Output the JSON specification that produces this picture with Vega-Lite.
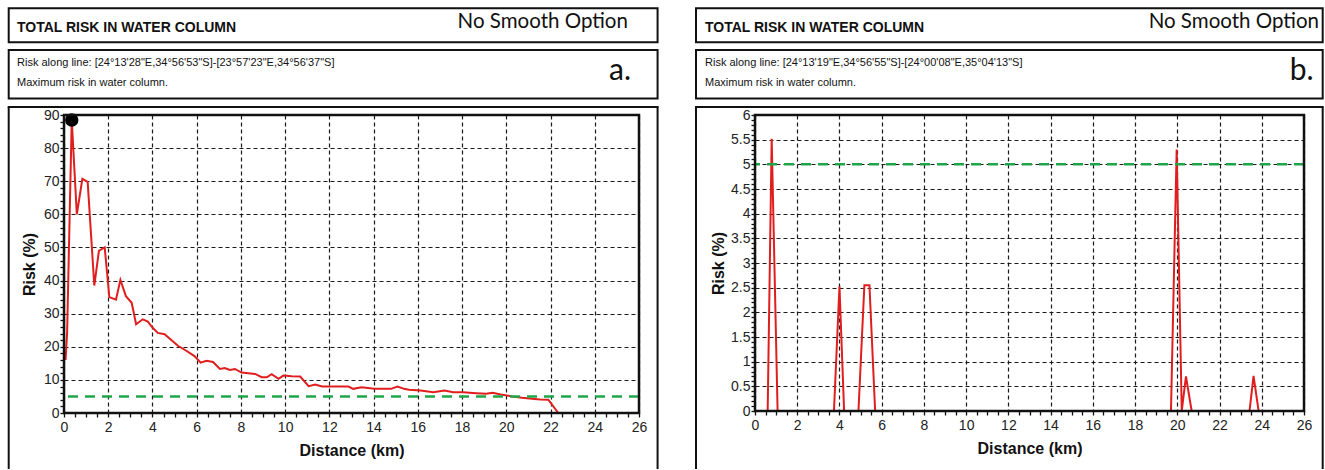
{
  "$schema": "https://vega.github.io/schema/vega-lite/v6.json",
  "background": "white",
  "padding": {"left": 7, "top": 7, "right": 0, "bottom": 0},
  "spacing": 35,
  "config": {
    "view": {"stroke": null},
    "font": "Liberation Sans",
    "axis": {
      "labelFont": "Liberation Sans",
      "labelFontSize": 14,
      "labelColor": "#222222",
      "titleFont": "Liberation Sans",
      "titleFontSize": 16,
      "titleFontWeight": "bold",
      "titleColor": "#111111",
      "domain": false,
      "tickColor": "#111111",
      "tickSize": 4,
      "tickWidth": 1.3,
      "grid": true,
      "gridColor": "#1a1a1a",
      "gridDash": [4, 3],
      "gridWidth": 1.2,
      "labelFlush": false,
      "labelOverlap": false,
      "labelBound": false
    }
  },
  "datasets": {
    "riskA": [
      {"d": 0.07, "risk": 16}, {"d": 0.14, "risk": 24}, {"d": 0.35, "risk": 88.5},
      {"d": 0.58, "risk": 60}, {"d": 0.83, "risk": 70.7}, {"d": 1.07, "risk": 69.8},
      {"d": 1.37, "risk": 38.5}, {"d": 1.58, "risk": 49}, {"d": 1.84, "risk": 50},
      {"d": 2.05, "risk": 35}, {"d": 2.35, "risk": 34.2}, {"d": 2.55, "risk": 40.2},
      {"d": 2.8, "risk": 35.3}, {"d": 3.06, "risk": 33.3}, {"d": 3.26, "risk": 26.8},
      {"d": 3.56, "risk": 28.3}, {"d": 3.79, "risk": 27.6}, {"d": 4.0, "risk": 25.8},
      {"d": 4.24, "risk": 24.2}, {"d": 4.55, "risk": 23.8}, {"d": 5.15, "risk": 20.3},
      {"d": 5.53, "risk": 18.8}, {"d": 5.9, "risk": 17.2}, {"d": 6.18, "risk": 15.2},
      {"d": 6.44, "risk": 15.8}, {"d": 6.74, "risk": 15.4}, {"d": 7.05, "risk": 13.3},
      {"d": 7.27, "risk": 13.6}, {"d": 7.5, "risk": 13}, {"d": 7.73, "risk": 13.3},
      {"d": 8.03, "risk": 12.2}, {"d": 8.64, "risk": 11.8}, {"d": 8.94, "risk": 10.8},
      {"d": 9.17, "risk": 10.8}, {"d": 9.39, "risk": 11.7}, {"d": 9.7, "risk": 10.3},
      {"d": 9.92, "risk": 11.3}, {"d": 10.3, "risk": 11.1}, {"d": 10.68, "risk": 11},
      {"d": 11.06, "risk": 8.1}, {"d": 11.36, "risk": 8.6}, {"d": 11.67, "risk": 8},
      {"d": 12.2, "risk": 8}, {"d": 12.86, "risk": 8}, {"d": 13.08, "risk": 7.3},
      {"d": 13.45, "risk": 7.8}, {"d": 14.04, "risk": 7.3}, {"d": 14.79, "risk": 7.3},
      {"d": 15.08, "risk": 8}, {"d": 15.38, "risk": 7.3}, {"d": 15.6, "risk": 7},
      {"d": 16.12, "risk": 6.8}, {"d": 16.7, "risk": 6.3}, {"d": 17.2, "risk": 6.8},
      {"d": 17.6, "risk": 6.3}, {"d": 18.04, "risk": 6.3}, {"d": 18.64, "risk": 6},
      {"d": 19.08, "risk": 5.8}, {"d": 19.38, "risk": 6.1}, {"d": 19.75, "risk": 5.6},
      {"d": 20.27, "risk": 5}, {"d": 20.71, "risk": 4.6}, {"d": 21.16, "risk": 4.3},
      {"d": 21.53, "risk": 4.1}, {"d": 21.9, "risk": 4}, {"d": 22.35, "risk": 0}
    ],
    "riskB": [
      {"d": 0, "risk": 0}, {"d": 0.6, "risk": 0}, {"d": 0.79, "risk": 5.52}, {"d": 1.07, "risk": 0},
      {"d": 3.74, "risk": 0}, {"d": 4.0, "risk": 2.53}, {"d": 4.22, "risk": 0},
      {"d": 4.9, "risk": 0}, {"d": 5.18, "risk": 2.55}, {"d": 5.42, "risk": 2.55}, {"d": 5.69, "risk": 0},
      {"d": 19.7, "risk": 0}, {"d": 19.97, "risk": 5.3}, {"d": 20.21, "risk": 0},
      {"d": 20.41, "risk": 0.7}, {"d": 20.68, "risk": 0},
      {"d": 23.42, "risk": 0}, {"d": 23.61, "risk": 0.71}, {"d": 23.85, "risk": 0},
      {"d": 25, "risk": 0}
    ]
  },
  "hconcat": [
    {
      "width": 575,
      "height": 298,
      "data": {"name": "riskA"},
      "resolve": {"axis": {"x": "independent", "y": "independent"}},
      "layer": [
        {
          "mark": {"type": "line", "color": "#e01e1e", "strokeWidth": 2},
          "encoding": {
            "x": {
              "field": "d",
              "type": "quantitative",
              "scale": {"domain": [0, 26], "nice": false, "zero": false},
              "axis": {
                "orient": "bottom",
                "grid": true,
                "title": "Distance (km)",
                "values": [0,0.5,1,1.5,2,2.5,3,3.5,4,4.5,5,5.5,6,6.5,7,7.5,8,8.5,9,9.5,10,10.5,11,11.5,12,12.5,13,13.5,14,14.5,15,15.5,16,16.5,17,17.5,18,18.5,19,19.5,20,20.5,21,21.5,22,22.5,23,23.5,24,24.5,25,25.5,26],
                "labelExpr": "datum.value % 2 === 0 ? format(datum.value, '~g') : ''",
                "gridOpacity": {"condition": {"test": "datum.value % 2 === 0", "value": 1}, "value": 0},
                "labelPadding": 3,
                "titlePadding": 8
              }
            },
            "y": {
              "field": "risk",
              "type": "quantitative",
              "scale": {"domain": [0, 90], "nice": false, "zero": false},
              "axis": {
                "orient": "left",
                "grid": true,
                "title": "Risk (%)",
                "values": [0,2,4,6,8,10,12,14,16,18,20,22,24,26,28,30,32,34,36,38,40,42,44,46,48,50,52,54,56,58,60,62,64,66,68,70,72,74,76,78,80,82,84,86,88,90],
                "labelExpr": "datum.value % 10 === 0 ? format(datum.value, '~g') : ''",
                "gridOpacity": {"condition": {"test": "datum.value % 10 === 0", "value": 1}, "value": 0},
                "labelPadding": 1,
                "titlePadding": 6
              }
            }
          }
        },
        {
          "transform": [
            {"joinaggregate": [{"op": "max", "field": "risk", "as": "peak"}]},
            {"filter": "datum.risk === datum.peak"}
          ],
          "mark": {"type": "point", "filled": true, "color": "#000000", "size": 180, "opacity": 1},
          "encoding": {
            "x": {"field": "d", "type": "quantitative", "axis": null},
            "y": {"field": "risk", "type": "quantitative", "axis": null}
          }
        },
        {
          "data": {"values": [{}]},
          "mark": {"type": "rule", "color": "#1fa64a", "strokeWidth": 2.5, "strokeDash": [10, 7]},
          "encoding": {
            "y": {"datum": 5, "type": "quantitative", "axis": null}
          }
        },
        {
          "data": {"values": [{}]},
          "mark": {"type": "rect", "filled": false, "stroke": "#111111", "strokeWidth": 2.5},
          "encoding": {
            "x": {"datum": 0, "type": "quantitative", "axis": null},
            "x2": {"datum": 26},
            "y": {"datum": 0, "type": "quantitative", "axis": null},
            "y2": {"datum": 90}
          }
        },
        {
          "data": {"values": [{}]},
          "mark": {"type": "rect", "fill": "white", "stroke": "#111111", "strokeWidth": 2},
          "encoding": {
            "x": {"datum": -2.5, "type": "quantitative", "axis": null},
            "x2": {"datum": 26.84},
            "y": {"datum": 122.22, "type": "quantitative", "axis": null},
            "y2": {"datum": 111.96}
          }
        },
        {
          "data": {"values": [{}]},
          "mark": {"type": "rect", "fill": "white", "stroke": "#111111", "strokeWidth": 2},
          "encoding": {
            "x": {"datum": -2.5, "type": "quantitative", "axis": null},
            "x2": {"datum": 26.84},
            "y": {"datum": 109.63, "type": "quantitative", "axis": null},
            "y2": {"datum": 94.98}
          }
        },
        {
          "data": {"values": [{}]},
          "mark": {"type": "rule", "color": "#111111", "strokeWidth": 2},
          "encoding": {
            "x": {"datum": -2.5, "type": "quantitative", "axis": null},
            "y": {"datum": 92.42, "type": "quantitative", "axis": null},
            "y2": {"datum": -16.91}
          }
        },
        {
          "data": {"values": [{}]},
          "mark": {"type": "rule", "color": "#111111", "strokeWidth": 2},
          "encoding": {
            "x": {"datum": 26.84, "type": "quantitative", "axis": null},
            "y": {"datum": 92.42, "type": "quantitative", "axis": null},
            "y2": {"datum": -16.91}
          }
        },
        {
          "data": {"values": [{}]},
          "mark": {"type": "rule", "color": "#111111", "strokeWidth": 2, "strokeCap": "square"},
          "encoding": {
            "x": {"datum": -2.5, "type": "quantitative", "axis": null},
            "x2": {"datum": 26.84},
            "y": {"datum": 92.42, "type": "quantitative", "axis": null}
          }
        },
        {
          "data": {"values": [{}]},
          "mark": {"type": "text", "align": "left", "baseline": "alphabetic", "font": "Liberation Sans", "fontWeight": "bold", "fontSize": 14, "color": "#111111"},
          "encoding": {
            "x": {"datum": -2.125, "type": "quantitative", "axis": null},
            "y": {"datum": 115.16, "type": "quantitative", "axis": null},
            "text": {"value": "TOTAL RISK IN WATER COLUMN"}
          }
        },
        {
          "data": {"values": [{}]},
          "mark": {"type": "text", "align": "right", "baseline": "alphabetic", "font": "Lato", "fontSize": 20.5, "color": "#111111"},
          "encoding": {
            "x": {"datum": 25.5, "type": "quantitative", "axis": null},
            "y": {"datum": 116.18, "type": "quantitative", "axis": null},
            "text": {"value": "No Smooth Option"}
          }
        },
        {
          "data": {"values": [{}]},
          "mark": {"type": "text", "align": "left", "baseline": "alphabetic", "font": "Liberation Sans", "fontSize": 11, "lineHeight": 20, "color": "#111111"},
          "encoding": {
            "x": {"datum": -2.125, "type": "quantitative", "axis": null},
            "y": {"datum": 104.8, "type": "quantitative", "axis": null},
            "text": {"value": ["Risk along line: [24°13'28\"E,34°56'53\"S]-[23°57'23\"E,34°56'37\"S]", "Maximum risk in water column."]}
          }
        },
        {
          "data": {"values": [{}]},
          "mark": {"type": "text", "align": "right", "baseline": "alphabetic", "font": "Lato", "fontSize": 30, "color": "#111111"},
          "encoding": {
            "x": {"datum": 25.64, "type": "quantitative", "axis": null},
            "y": {"datum": 100.57, "type": "quantitative", "axis": null},
            "text": {"value": "a."}
          }
        }
      ]
    },
    {
      "width": 549,
      "height": 296,
      "data": {"name": "riskB"},
      "resolve": {"axis": {"x": "independent", "y": "independent"}},
      "layer": [
        {
          "mark": {"type": "line", "color": "#e01e1e", "strokeWidth": 2},
          "encoding": {
            "x": {
              "field": "d",
              "type": "quantitative",
              "scale": {"domain": [0, 26], "nice": false, "zero": false},
              "axis": {
                "orient": "bottom",
                "grid": true,
                "title": "Distance (km)",
                "values": [0,0.5,1,1.5,2,2.5,3,3.5,4,4.5,5,5.5,6,6.5,7,7.5,8,8.5,9,9.5,10,10.5,11,11.5,12,12.5,13,13.5,14,14.5,15,15.5,16,16.5,17,17.5,18,18.5,19,19.5,20,20.5,21,21.5,22,22.5,23,23.5,24,24.5,25,25.5,26],
                "labelExpr": "datum.value % 2 === 0 ? format(datum.value, '~g') : ''",
                "gridOpacity": {"condition": {"test": "datum.value % 2 === 0", "value": 1}, "value": 0},
                "labelPadding": 3,
                "titlePadding": 8
              }
            },
            "y": {
              "field": "risk",
              "type": "quantitative",
              "scale": {"domain": [0, 6], "nice": false, "zero": false},
              "axis": {
                "orient": "left",
                "grid": true,
                "title": "Risk (%)",
                "values": [0,0.1,0.2,0.3,0.4,0.5,0.6,0.7,0.8,0.9,1,1.1,1.2,1.3,1.4,1.5,1.6,1.7,1.8,1.9,2,2.1,2.2,2.3,2.4,2.5,2.6,2.7,2.8,2.9,3,3.1,3.2,3.3,3.4,3.5,3.6,3.7,3.8,3.9,4,4.1,4.2,4.3,4.4,4.5,4.6,4.7,4.8,4.9,5,5.1,5.2,5.3,5.4,5.5,5.6,5.7,5.8,5.9,6],
                "labelExpr": "round(datum.value * 10) % 5 === 0 ? format(datum.value, '~g') : ''",
                "gridOpacity": {"condition": {"test": "round(datum.value * 10) % 5 === 0", "value": 1}, "value": 0},
                "labelPadding": 1,
                "titlePadding": 4
              }
            }
          }
        },
        {
          "data": {"values": [{}]},
          "mark": {"type": "rule", "color": "#1fa64a", "strokeWidth": 2.5, "strokeDash": [10, 7]},
          "encoding": {
            "y": {"datum": 5, "type": "quantitative", "axis": null}
          }
        },
        {
          "data": {"values": [{}]},
          "mark": {"type": "rect", "filled": false, "stroke": "#111111", "strokeWidth": 2.5},
          "encoding": {
            "x": {"datum": 0, "type": "quantitative", "axis": null},
            "x2": {"datum": 26},
            "y": {"datum": 0, "type": "quantitative", "axis": null},
            "y2": {"datum": 6}
          }
        },
        {
          "data": {"values": [{}]},
          "mark": {"type": "rect", "fill": "white", "stroke": "#111111", "strokeWidth": 2},
          "encoding": {
            "x": {"datum": -2.794, "type": "quantitative", "axis": null},
            "x2": {"datum": 26.885},
            "y": {"datum": 8.163, "type": "quantitative", "axis": null},
            "y2": {"datum": 7.474}
          }
        },
        {
          "data": {"values": [{}]},
          "mark": {"type": "rect", "fill": "white", "stroke": "#111111", "strokeWidth": 2},
          "encoding": {
            "x": {"datum": -2.794, "type": "quantitative", "axis": null},
            "x2": {"datum": 26.885},
            "y": {"datum": 7.3176, "type": "quantitative", "axis": null},
            "y2": {"datum": 6.3345}
          }
        },
        {
          "data": {"values": [{}]},
          "mark": {"type": "rule", "color": "#111111", "strokeWidth": 2},
          "encoding": {
            "x": {"datum": -2.794, "type": "quantitative", "axis": null},
            "y": {"datum": 6.1622, "type": "quantitative", "axis": null},
            "y2": {"datum": -1.1757}
          }
        },
        {
          "data": {"values": [{}]},
          "mark": {"type": "rule", "color": "#111111", "strokeWidth": 2},
          "encoding": {
            "x": {"datum": 26.885, "type": "quantitative", "axis": null},
            "y": {"datum": 6.1622, "type": "quantitative", "axis": null},
            "y2": {"datum": -1.1757}
          }
        },
        {
          "data": {"values": [{}]},
          "mark": {"type": "rule", "color": "#111111", "strokeWidth": 2, "strokeCap": "square"},
          "encoding": {
            "x": {"datum": -2.794, "type": "quantitative", "axis": null},
            "x2": {"datum": 26.885},
            "y": {"datum": 6.1622, "type": "quantitative", "axis": null}
          }
        },
        {
          "data": {"values": [{}]},
          "mark": {"type": "text", "align": "left", "baseline": "alphabetic", "font": "Liberation Sans", "fontWeight": "bold", "fontSize": 14, "color": "#111111"},
          "encoding": {
            "x": {"datum": -2.368, "type": "quantitative", "axis": null},
            "y": {"datum": 7.6885, "type": "quantitative", "axis": null},
            "text": {"value": "TOTAL RISK IN WATER COLUMN"}
          }
        },
        {
          "data": {"values": [{}]},
          "mark": {"type": "text", "align": "right", "baseline": "alphabetic", "font": "Lato", "fontSize": 20.5, "color": "#111111"},
          "encoding": {
            "x": {"datum": 26.71, "type": "quantitative", "axis": null},
            "y": {"datum": 7.7574, "type": "quantitative", "axis": null},
            "text": {"value": "No Smooth Option"}
          }
        },
        {
          "data": {"values": [{}]},
          "mark": {"type": "text", "align": "left", "baseline": "alphabetic", "font": "Liberation Sans", "fontSize": 11, "lineHeight": 20, "color": "#111111"},
          "encoding": {
            "x": {"datum": -2.368, "type": "quantitative", "axis": null},
            "y": {"datum": 6.9932, "type": "quantitative", "axis": null},
            "text": {"value": ["Risk along line: [24°13'19\"E,34°56'55\"S]-[24°00'08\"E,35°04'13\"S]", "Maximum risk in water column."]}
          }
        },
        {
          "data": {"values": [{}]},
          "mark": {"type": "text", "align": "right", "baseline": "alphabetic", "font": "Lato", "fontSize": 30, "color": "#111111"},
          "encoding": {
            "x": {"datum": 26.46, "type": "quantitative", "axis": null},
            "y": {"datum": 6.7095, "type": "quantitative", "axis": null},
            "text": {"value": "b."}
          }
        }
      ]
    }
  ]
}
